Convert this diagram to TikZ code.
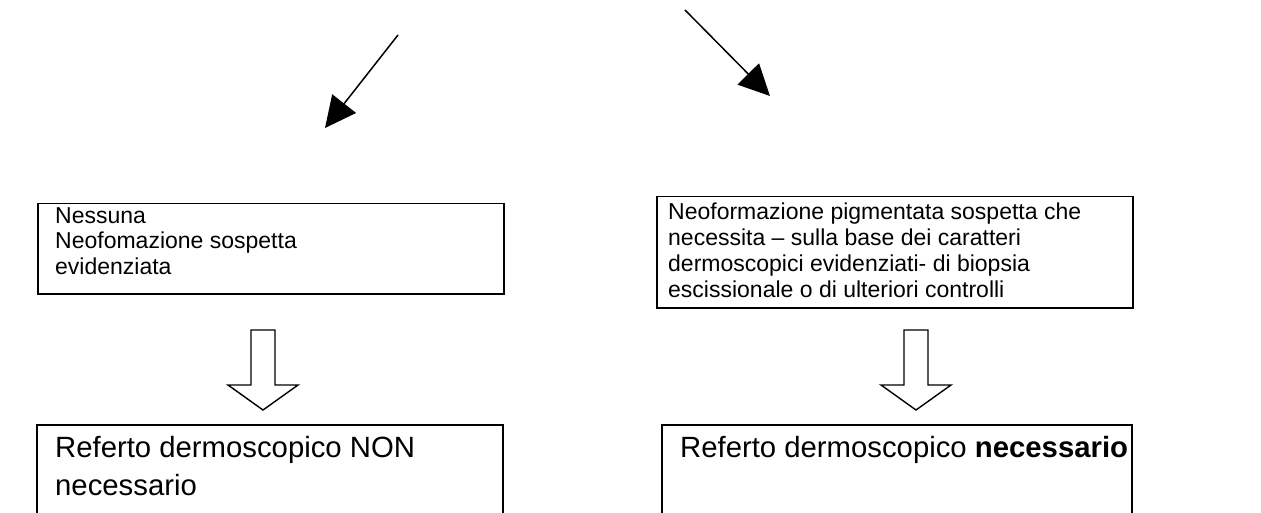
\documentclass[tikz,border=0pt]{standalone}
\usepackage{fontspec}
\setmainfont{Liberation Sans}
\usetikzlibrary{arrows.meta}
\begin{document}
\begin{tikzpicture}[x=1pt,y=-1pt,
  box/.style={draw,line width=1.5pt,inner sep=0pt},
  txt/.style={anchor=north west,inner sep=0pt,align=left,font=\fontsize{23}{25.8}\selectfont},
  big/.style={anchor=north west,inner sep=0pt,align=left,font=\fontsize{29.3}{38}\selectfont},
  pointer/.style={line width=1.5pt,-{Triangle[length=31pt,width=30pt]}},
  hollow/.style={draw,line width=1.4pt,fill=white,line join=miter}]
\useasboundingbox (0,0) rectangle (1261,513);
% top pointers
\coordinate (p1s) at (398,35);
\coordinate (p1e) at (325,128);
\coordinate (p2s) at (685,10);
\coordinate (p2e) at (770,96);
\draw[pointer] (p1s) -- (p1e);
\draw[pointer] (p2s) -- (p2e);
% middle boxes
\node[box,anchor=north west,minimum width=466,minimum height=90] (b1) at (37,203) {};
\node[txt] (t1) at (55,207) {Nessuna\\Neofomazione sospetta\\evidenziata};
\node[box,anchor=north west,minimum width=476,minimum height=111] (b2) at (656,196) {};
\node[txt] (t2) at (668,203) {Neoformazione pigmentata sospetta che\\necessita -- sulla base dei caratteri\\dermoscopici evidenziati- di biopsia\\escissionale o di ulteriori controlli};
% hollow arrows
\draw[hollow] (251,330) -- (275,330) -- (275,385) -- (298,385) -- (263,410) -- (228,385) -- (251,385) -- cycle;
\draw[hollow] (904,330) -- (928,330) -- (928,385) -- (951,385) -- (916,410) -- (881,385) -- (904,385) -- cycle;
% bottom boxes (cut by page edge)
\draw[line width=1.6pt] (37,513) |- (503,425) -- (503,513);
\draw[line width=1.6pt] (662,513) |- (1132,425) -- (1132,513);
\node[big] (r1) at (55,436) {Referto dermoscopico NON\\necessario};
\node[big] (r2) at (680,436) {Referto dermoscopico \textbf{necessario}};
\end{tikzpicture}
\end{document}
